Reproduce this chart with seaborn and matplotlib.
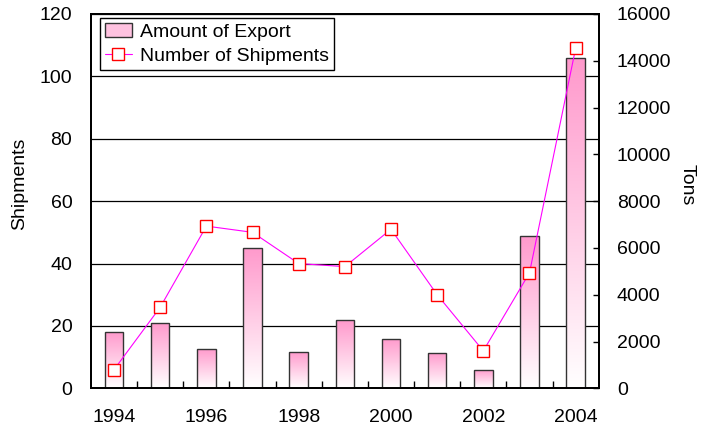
import numpy as np
import matplotlib
matplotlib.use("Agg")
import matplotlib.pyplot as plt
from matplotlib.colors import LinearSegmentedColormap
from matplotlib.patches import Rectangle
from matplotlib.lines import Line2D
import seaborn as sns

years = ["1994", "1995", "1996", "1997", "1998", "1999", "2000", "2001", "2002", "2003", "2004"]
export_tons = [2400, 2800, 1700, 6000, 1550, 2900, 2100, 1500, 800, 6500, 14100]
shipments = [6, 26, 52, 50, 40, 39, 51, 30, 12, 37, 109]
ship_ticks = [0, 20, 40, 60, 80, 100, 120]
ton_ticks = [0, 2000, 4000, 6000, 8000, 10000, 12000, 14000, 16000]

sns.set_theme(style="white")
plt.rcParams["font.family"] = ["Liberation Sans", "DejaVu Sans"]
plt.rcParams["text.color"] = "black"
plt.rcParams["axes.labelcolor"] = "black"

fig = plt.figure(figsize=(7.04, 4.32), dpi=100)
ax = fig.add_axes([91 / 704, 1 - 388.3 / 432, 507.7 / 704, 374.3 / 432])
ax2 = ax.twinx()
ax3 = ax.twinx()

# bars (tons, right axis)
sns.barplot(x=years, y=export_tons, ax=ax2, width=0.4, color="#FF99CC",
            edgecolor="#333333", linewidth=1.0)
cmap = LinearSegmentedColormap.from_list("pinkgrad", ["#FFFFFF", "#FF99CC"])
grad = np.linspace(1, 0, 256).reshape(-1, 1)
for p in list(ax2.patches):
    x0, w, h = p.get_x(), p.get_width(), p.get_height()
    im = ax2.imshow(grad, extent=[x0, x0 + w, 0, h], aspect="auto", cmap=cmap,
                    origin="upper", zorder=0.9, vmin=0, vmax=1)
    im.set_clip_path(p)
    p.set_facecolor("none")
    p.set_edgecolor("#333333")
    p.set_zorder(1)

# line (shipments, left axis scale)
sns.pointplot(x=years, y=shipments, ax=ax3, color="#FF00FF", markers="s",
              linestyles="-", linewidth=0.8, markersize=8,
              markerfacecolor="white", markeredgecolor="#FF0000",
              markeredgewidth=1.0)
for ln in ax3.lines:
    ln.set_markerfacecolor("white")
    ln.set_markeredgecolor("#FF0000")
    ln.set_markersize(8)
    ln.set_markeredgewidth(1.0)
    ln.set_linewidth(0.8)

n = len(years)
for a in (ax, ax2, ax3):
    a.set_xlim(-0.5, n - 0.5)
    a.set_xlabel("")
ax.set_ylim(0, 120)
ax3.set_ylim(0, 120)
ax2.set_ylim(0, 16000)

ax.set_yticks(ship_ticks)
ax.set_yticklabels([str(t) for t in ship_ticks], fontsize=14)
ax.tick_params(axis="y", length=0, pad=13.5, colors="black")
ax.yaxis.grid(True, color="black", linewidth=0.9)
ax.set_axisbelow(True)

ax2.set_yticks(ton_ticks)
ax2.set_yticklabels([str(t) for t in ton_ticks], fontsize=14)
ax2.tick_params(axis="y", direction="in", length=4, width=1, pad=13, colors="black")
ax2.yaxis.grid(False)
ax2.xaxis.grid(False)

ax3.yaxis.set_visible(False)
ax3.grid(False)

ax.set_xticks(range(0, n, 2))
ax.set_xticklabels(years[::2], fontsize=14)
ax.set_xticks(np.arange(n - 1) + 0.5, minor=True)
ax.tick_params(axis="x", which="major", length=0, pad=15, colors="black")
ax.tick_params(axis="x", which="minor", direction="in", length=5, width=1,
               bottom=True, color="black")
ax.xaxis.grid(False)

ax.set_ylabel("Shipments", fontsize=14, color="black")
ax.yaxis.set_label_coords(-0.124, 0.547)
ax2.set_ylabel("Tons", fontsize=14, rotation=270, va="bottom", color="black")
ax2.yaxis.set_label_coords(1.158, 0.543)
ax3.set_ylabel("")

for a in (ax, ax2, ax3):
    for s in a.spines.values():
        s.set_color("black")
        s.set_linewidth(1.2)

handles = [
    Rectangle((0, 0), 1, 1, facecolor="#FFC2E0", edgecolor="#333333", linewidth=1.0),
    Line2D([], [], color="#FF00FF", linewidth=0.8, marker="s", markersize=8,
           markerfacecolor="white", markeredgecolor="#FF0000", markeredgewidth=1.0),
]
leg = ax3.legend(handles, ["Amount of Export", "Number of Shipments"],
                 loc="upper left", bbox_to_anchor=(0.0177, 0.989),
                 borderaxespad=0, fontsize=14, frameon=True, fancybox=False,
                 edgecolor="black", framealpha=1, handlelength=1.4,
                 handleheight=0.72, handletextpad=0.4, labelspacing=0.35,
                 borderpad=0.25)
leg.get_frame().set_linewidth(1.0)
for t in leg.get_texts():
    t.set_color("black")

fig.savefig("out.png", dpi=100)
